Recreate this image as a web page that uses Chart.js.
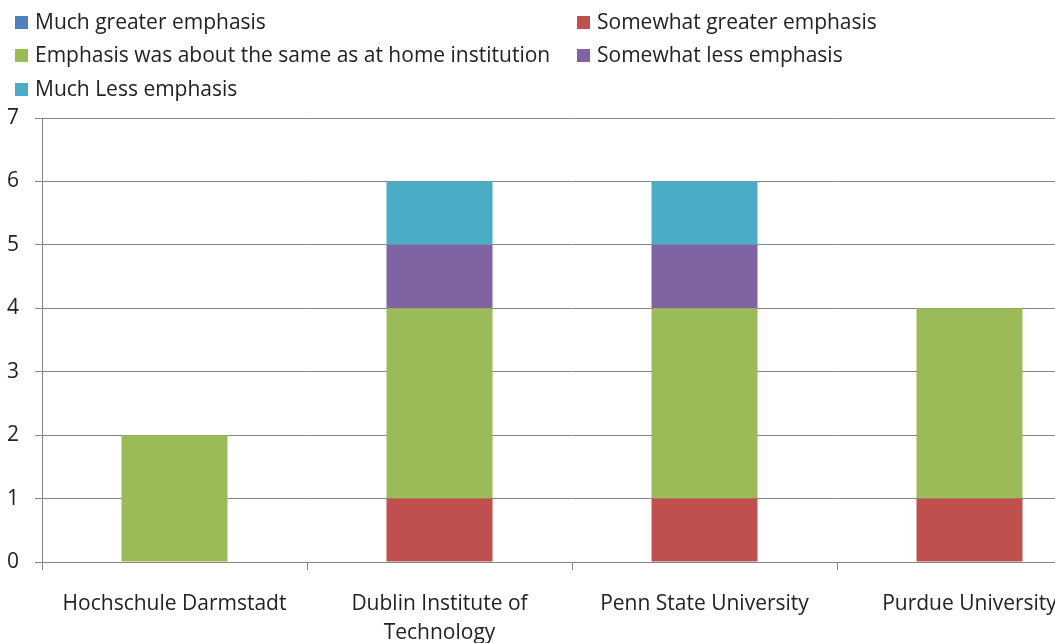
<!DOCTYPE html>
<html>
<head>
<meta charset="utf-8">
<script src="https://cdn.jsdelivr.net/npm/chart.js@4/dist/chart.umd.min.js"></script>
<style>
  html, body { margin: 0; padding: 0; background: #fff; overflow: hidden; }
  #wrap { position: relative; width: 1055px; height: 643px; overflow: hidden; }
  #box { position: absolute; left: 0; top: 0; width: 1102px; height: 643px; }
  #legend { position: absolute; left: 0; top: 0; width: 1055px; height: 110px; font-family: "Open Sans", sans-serif; font-size: 21px; color: #222; }
  .item { position: absolute; white-space: nowrap; line-height: 22px; }
  .sw { display: inline-block; width: 13px; height: 13px; margin-right: 7px; vertical-align: 0px; }
</style>
</head>
<body>
<div id="wrap">
  <div id="box"><canvas id="myChart"></canvas></div>
  <div id="legend"></div>
</div>
<script>
// categories and series
var schools = ['Hochschule Darmstadt', ['Dublin Institute of', 'Technology'], 'Penn State University', 'Purdue University'];
var seriesNames = ['Much greater emphasis', 'Somewhat greater emphasis', 'Emphasis was about the same as at home institution', 'Somewhat less emphasis', 'Much Less emphasis'];
var muchGreater = [0, 0, 0, 0];
var somewhatGreater = [0, 1, 1, 1];
var aboutSame = [2, 3, 3, 3];
var somewhatLess = [0, 1, 1, 0];
var muchLess = [0, 1, 1, 0];
var yTicks = [0, 1, 2, 3, 4, 5, 6, 7];
var colors = ['#4F81BD', '#C0504D', '#9BBB59', '#8064A2', '#4BACC6'];

var allValues = [muchGreater, somewhatGreater, aboutSame, somewhatLess, muchLess];

// legend as two columns, like the original
var legendPos = [[15, 10], [577, 10], [15, 43], [577, 43], [15, 77]];
var leg = document.getElementById('legend');
for (var i = 0; i < seriesNames.length; i++) {
    var d = document.createElement('div');
    d.className = 'item';
    d.style.left = legendPos[i][0] + 'px';
    d.style.top = legendPos[i][1] + 'px';
    d.innerHTML = '<span class="sw" style="background:' + colors[i] + '"></span>' + seriesNames[i];
    leg.appendChild(d);
}

var datasets = [];
for (var i = 0; i < seriesNames.length; i++) {
    datasets.push({
        label: seriesNames[i],
        data: allValues[i],
        backgroundColor: colors[i],
        borderWidth: 0,
        barPercentage: 0.4,
        categoryPercentage: 1.0
    });
}

var font = { family: '"Open Sans", sans-serif', size: 21, lineHeight: 1.38 };

const config = {
    type: 'bar',
    data: { labels: schools, datasets: datasets },
    options: {
        responsive: true,
        maintainAspectRatio: false,
        animation: false,
        layout: { padding: { top: 118, right: 0, bottom: 0, left: 0 } },
        plugins: {
            legend: { display: false },
            tooltip: { enabled: false }
        },
        scales: {
            x: {
                stacked: true,
                grid: { offset: true, drawOnChartArea: false, drawTicks: true, tickLength: 8, color: '#868686' },
                border: { color: '#868686', width: 1 },
                ticks: { color: '#222', font: font, padding: 20, maxRotation: 0, autoSkip: false },
                afterFit: function (s) { s.height = 81; }
            },
            y: {
                stacked: true,
                min: 0,
                max: 7,
                afterBuildTicks: function (s) { s.ticks = yTicks.map(function (v) { return { value: v }; }); },
                grid: { color: '#868686', tickLength: 7 },
                border: { color: '#868686', width: 1 },
                ticks: { color: '#222', font: { family: font.family, size: 21 }, padding: 16 },
                afterFit: function (s) { s.width = 42; }
            }
        }
    }
};
//create the chart
var myChart = new Chart(document.getElementById('myChart'), config);
</script>
</body>
</html>
